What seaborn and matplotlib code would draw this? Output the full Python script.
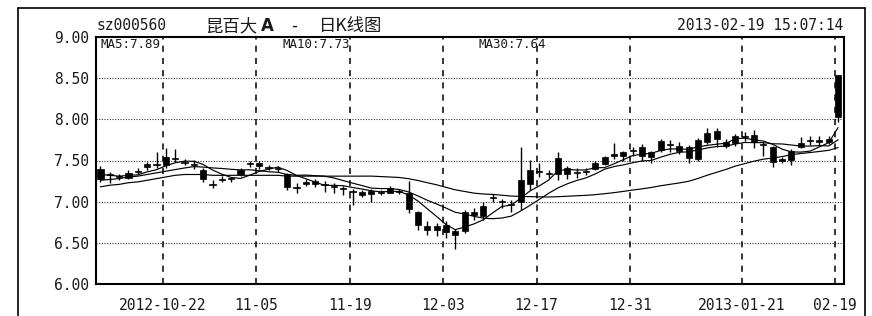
import numpy as np
import pandas as pd
import seaborn as sns
import matplotlib.pyplot as plt
from matplotlib.lines import Line2D

# daily K-line data, sz000560, 2012-10-11 .. 2013-02-19
dates = ['2012-10-11', '2012-10-12', '2012-10-15', '2012-10-16', '2012-10-17', '2012-10-18', '2012-10-19',
         '2012-10-22', '2012-10-23', '2012-10-24', '2012-10-25', '2012-10-26', '2012-10-29', '2012-10-30',
         '2012-10-31', '2012-11-01', '2012-11-02', '2012-11-05', '2012-11-06', '2012-11-07', '2012-11-08',
         '2012-11-09', '2012-11-12', '2012-11-13', '2012-11-14', '2012-11-15', '2012-11-16', '2012-11-19',
         '2012-11-20', '2012-11-21', '2012-11-22', '2012-11-23', '2012-11-26', '2012-11-27', '2012-11-28',
         '2012-11-29', '2012-11-30', '2012-12-03', '2012-12-04', '2012-12-05', '2012-12-06', '2012-12-07',
         '2012-12-10', '2012-12-11', '2012-12-12', '2012-12-13', '2012-12-14', '2012-12-17', '2012-12-18',
         '2012-12-19', '2012-12-20', '2012-12-21', '2012-12-24', '2012-12-25', '2012-12-26', '2012-12-27',
         '2012-12-28', '2012-12-31', '2013-01-04', '2013-01-07', '2013-01-08', '2013-01-09', '2013-01-10',
         '2013-01-11', '2013-01-14', '2013-01-15', '2013-01-16', '2013-01-17', '2013-01-18', '2013-01-21',
         '2013-01-22', '2013-01-23', '2013-01-24', '2013-01-25', '2013-01-28', '2013-01-29', '2013-01-30',
         '2013-01-31', '2013-02-01', '2013-02-19']

opens = [7.40, 7.32, 7.31, 7.29, 7.36, 7.42, 7.45, 7.44, 7.52, 7.48, 7.46, 7.39, 7.21, 7.26, 7.27, 7.33,
         7.46, 7.47, 7.42, 7.41, 7.34, 7.18, 7.22, 7.25, 7.21, 7.18, 7.15, 7.13, 7.08, 7.13, 7.11, 7.11,
         7.13, 7.11, 6.88, 6.71, 6.65, 6.72, 6.64, 6.64, 6.87, 6.82, 7.04, 7.00, 6.97, 6.99, 7.22, 7.36,
         7.33, 7.33, 7.41, 7.35, 7.36, 7.40, 7.46, 7.56, 7.55, 7.61, 7.66, 7.54, 7.63, 7.70, 7.68, 7.66,
         7.52, 7.73, 7.86, 7.73, 7.71, 7.78, 7.81, 7.70, 7.67, 7.50, 7.51, 7.67, 7.74, 7.73, 7.72, 8.03]
highs = [7.43, 7.36, 7.34, 7.38, 7.41, 7.48, 7.60, 7.65, 7.64, 7.52, 7.51, 7.41, 7.26, 7.31, 7.30, 7.41,
         7.50, 7.49, 7.44, 7.43, 7.35, 7.23, 7.28, 7.27, 7.25, 7.23, 7.19, 7.15, 7.14, 7.15, 7.14, 7.19,
         7.15, 7.25, 6.89, 6.76, 6.74, 6.76, 6.67, 6.90, 6.92, 7.00, 7.09, 7.03, 7.02, 7.66, 7.51, 7.47,
         7.38, 7.60, 7.43, 7.41, 7.41, 7.50, 7.56, 7.71, 7.62, 7.66, 7.70, 7.62, 7.76, 7.75, 7.73, 7.69,
         7.77, 7.90, 7.90, 7.76, 7.82, 7.85, 7.87, 7.73, 7.68, 7.54, 7.64, 7.79, 7.80, 7.80, 7.80, 8.54]
lows = [7.24, 7.23, 7.26, 7.27, 7.33, 7.39, 7.41, 7.41, 7.48, 7.44, 7.40, 7.24, 7.16, 7.24, 7.24, 7.31,
        7.42, 7.40, 7.38, 7.36, 7.14, 7.11, 7.19, 7.18, 7.12, 7.11, 7.08, 6.96, 7.06, 7.00, 7.08, 7.10,
        7.09, 6.86, 6.66, 6.60, 6.58, 6.56, 6.43, 6.62, 6.78, 6.78, 6.99, 6.92, 6.88, 6.90, 7.14, 7.30,
        7.29, 7.26, 7.27, 7.29, 7.32, 7.38, 7.44, 7.52, 7.50, 7.56, 7.50, 7.47, 7.60, 7.60, 7.58, 7.47,
        7.50, 7.70, 7.67, 7.65, 7.68, 7.74, 7.65, 7.55, 7.42, 7.47, 7.45, 7.65, 7.69, 7.68, 7.70, 7.97]
closes = [7.28, 7.33, 7.30, 7.35, 7.37, 7.46, 7.46, 7.54, 7.53, 7.47, 7.45, 7.27, 7.20, 7.28, 7.27, 7.39,
          7.47, 7.43, 7.41, 7.40, 7.18, 7.17, 7.23, 7.21, 7.20, 7.18, 7.15, 7.12, 7.12, 7.09, 7.12, 7.17,
          7.12, 6.91, 6.72, 6.65, 6.70, 6.63, 6.60, 6.88, 6.84, 6.95, 7.05, 6.99, 6.96, 7.26, 7.39, 7.36,
          7.34, 7.53, 7.34, 7.35, 7.37, 7.47, 7.54, 7.57, 7.60, 7.62, 7.55, 7.60, 7.74, 7.69, 7.62, 7.53,
          7.75, 7.83, 7.76, 7.68, 7.80, 7.79, 7.72, 7.69, 7.48, 7.51, 7.62, 7.71, 7.75, 7.74, 7.76, 8.54]

# moving-average values before enough days are in the window
ma5_head = [7.33, 7.32, 7.31, 7.32]
ma10_head = [7.26, 7.27, 7.28, 7.30, 7.31, 7.33, 7.35, 7.37, 7.39]
ma30_head = [7.18, 7.20, 7.21, 7.23, 7.24, 7.26, 7.28, 7.30, 7.32, 7.33, 7.33, 7.33, 7.32, 7.32, 7.32,
             7.32, 7.32, 7.32, 7.32, 7.32, 7.31, 7.31, 7.31, 7.31, 7.31, 7.31, 7.31, 7.31, 7.31]

tick_dates = ['2012-10-22', '2012-11-05', '2012-11-19', '2012-12-03', '2012-12-17', '2012-12-31',
              '2013-01-21', '2013-02-19']
tick_labels = ['2012-10-22', '11-05', '11-19', '12-03', '12-17', '12-31', '2013-01-21', '02-19']
y_ticks = [6.00, 6.50, 7.00, 7.50, 8.00, 8.50, 9.00]

df = pd.DataFrame({'date': dates, 'open': opens, 'high': highs, 'low': lows, 'close': closes})
df['idx'] = np.arange(len(df))
for n, head in [(5, ma5_head), (10, ma10_head), (30, ma30_head)]:
    ma = df['close'].rolling(n).mean()
    ma.iloc[:len(head)] = head
    df['ma%d' % n] = ma

sns.set_theme(style='white')
plt.rcParams['font.family'] = ['DejaVu Sans Mono', 'Noto Sans CJK SC']

W, H = 872, 316
fig = plt.figure(figsize=(W / 100, H / 100), dpi=100)
fig.patch.set_facecolor('white')

def fx(px):
    return px / W

def fy(py):
    return 1 - py / H

ax = fig.add_axes([fx(96), fy(284), fx(843.5 - 96), (284 - 37) / H])
ax.set_facecolor('white')

# candles
body_lo = np.minimum(df['open'], df['close'])
body_h = np.maximum((df['close'] - df['open']).abs(), 0.013)
ax.vlines(df['idx'], df['low'], df['high'], color='black', lw=1.0, zorder=3)
ax.bar(df['idx'], body_h, bottom=body_lo, width=0.66, color='black', edgecolor='black', lw=0.5, zorder=4)

# moving averages
for col in ['ma5', 'ma10', 'ma30']:
    sns.lineplot(data=df, x='idx', y=col, color='black', lw=0.85, ax=ax, zorder=5)

ax.set_xlim(-0.48, 79.58)
ax.set_ylim(6.0, 9.0)
ax.set_xlabel('')
ax.set_ylabel('')

tick_pos = [dates.index(d) - 0.3 for d in tick_dates]
ax.set_xticks(tick_pos)
ax.set_xticklabels(tick_labels)
ax.set_yticks(y_ticks)
ax.set_yticklabels(['%.2f' % v for v in y_ticks])
ax.tick_params(axis='both', length=0, labelsize=10.5, colors='#1a1a1a')
ax.tick_params(axis='y', pad=5)
ax.tick_params(axis='x', pad=10)

# grid: dotted horizontal, dashed vertical
for v in y_ticks[1:-1]:
    ax.axhline(v, color='#333333', lw=0.8, ls=(0, (1, 1.4)), zorder=1)
for p in tick_pos:
    ax.axvline(p, color='black', lw=1.1, ls=(0, (4, 4)), zorder=1)

for s in ax.spines.values():
    s.set_color('black')
    s.set_linewidth(1.5)

# header texts
fig.text(fx(96), fy(30), 'sz000560', fontsize=10.5, color='#1a1a1a', va='baseline', ha='left')
fig.text(fx(205), fy(31), '昆百大', fontsize=12.5, color='#1a1a1a', va='baseline', ha='left',
         family=['Noto Sans CJK SC', 'DejaVu Sans'])
fig.text(fx(261), fy(31), 'A', fontsize=12, color='#1a1a1a', va='baseline', ha='left',
         family=['DejaVu Sans'], fontweight='bold')
fig.text(fx(289), fy(31), '-', fontsize=12, color='#1a1a1a', va='baseline', ha='left',
         family=['DejaVu Sans Mono'])
fig.text(fx(319), fy(31), '日K线图', fontsize=12.5, color='#1a1a1a', va='baseline', ha='left',
         family=['Noto Sans CJK SC', 'DejaVu Sans'])
fig.text(fx(843), fy(30), '2013-02-19 15:07:14', fontsize=10.5, color='#1a1a1a', va='baseline', ha='right')

fig.text(fx(100), fy(47.5), 'MA5:7.89', fontsize=9, color='#1a1a1a', va='baseline', ha='left')
fig.text(fx(282), fy(47.5), 'MA10:7.73', fontsize=9, color='#1a1a1a', va='baseline', ha='left')
fig.text(fx(478), fy(47.5), 'MA30:7.64', fontsize=9, color='#1a1a1a', va='baseline', ha='left')

# outer frame
fig.add_artist(Line2D([fx(18), fx(865)], [fy(8), fy(8)], color='black', lw=1.2))
fig.add_artist(Line2D([fx(18), fx(18)], [fy(8), 0], color='black', lw=1.2))
fig.add_artist(Line2D([fx(865), fx(865)], [fy(8), 0], color='black', lw=1.2))

fig.savefig('out.png', dpi=100, facecolor='white')
